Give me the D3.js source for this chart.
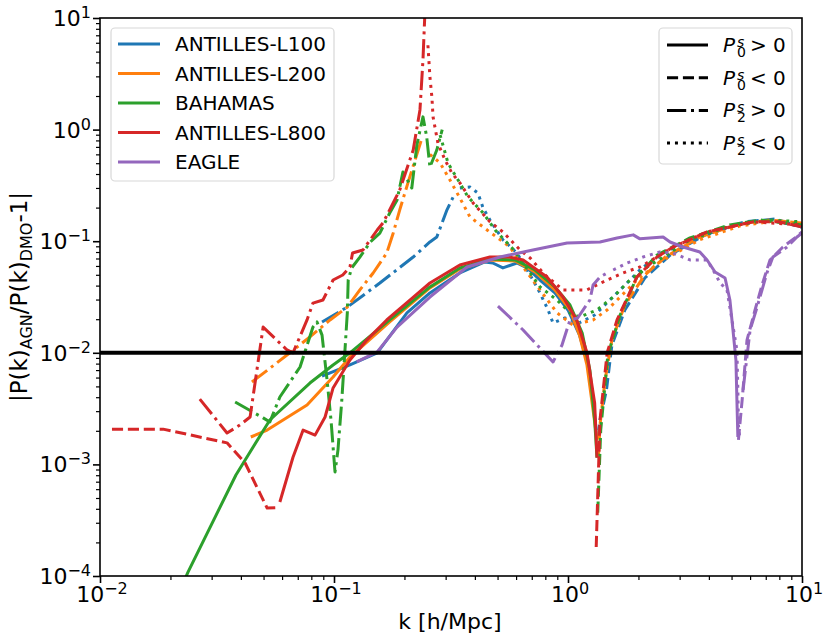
<!DOCTYPE html>
<html>
<head>
<meta charset="utf-8">
<script src="https://cdn.jsdelivr.net/npm/d3@7"></script>
<style>
body { margin: 0; background: #fff; }
text { font-family: "DejaVu Sans", sans-serif; fill: #000; }
</style>
</head>
<body>
<svg id="chart" width="831" height="643"></svg>
<script>
// |P(k)_AGN / P(k)_DMO - 1|, [k, value]; null breaks a line
const sims = ["ANTILLES-L100", "ANTILLES-L200", "BAHAMAS", "ANTILLES-L800", "EAGLE"];
const simColors = ["#1f77b4", "#ff7f0e", "#2ca02c", "#d62728", "#9467bd"];

const l100_p0pos = [[0.0889,0.00619],[0.103,0.00701],[0.117,0.00778],[0.153,0.0100],[0.168,0.0130],[0.205,0.0228],[0.257,0.0344],[0.345,0.0519],[0.441,0.0652],[0.477,0.0638],[0.527,0.0576],[0.605,0.0638],[0.668,0.0576],[0.759,0.0449],[0.879,0.0344],[1.00,0.0242],[1.12,0.0144],[1.22,0.00778],[1.28,0.00378],[1.32,0.00203]];
const l100_p0neg = [[1.35,0.0018],[1.37,0.0025],[1.46,0.00465],[1.54,0.0117],[1.75,0.0242],[2.13,0.0468],[2.73,0.0751],[3.85,0.114],[5.70,0.149],[7.68,0.158],[10,0.134]];
const l100_p2pos = [[0.0889,0.0189],[0.114,0.0257],[0.157,0.0422],[0.218,0.0721],[0.257,0.0984],[0.275,0.109],[0.304,0.191],[0.323,0.249]];
const l100_p2neg = [[0.345,0.300],[0.381,0.306],[0.412,0.270],[0.434,0.198],[0.464,0.155],[0.527,0.103],[0.605,0.0783],[0.689,0.0498],[0.759,0.0344],[0.822,0.0242],[0.863,0.0185],[0.970,0.0205],[1.12,0.0186],[1.30,0.0218],[1.51,0.0297],[1.75,0.0404],[2.07,0.0576],[2.60,0.0800],[3.66,0.109],[5.43,0.143],[7.30,0.155],[10,0.134]];

const l200_p0pos = [[0.0441,0.00176],[0.0518,0.00203],[0.0767,0.0034],[0.0991,0.00607],[0.117,0.00917],[0.173,0.0189],[0.257,0.0381],[0.345,0.0564],[0.464,0.0679],[0.594,0.0665],[0.723,0.0530],[0.879,0.0366],[1.02,0.0242],[1.12,0.0144],[1.205,0.00778],[1.28,0.00307],[1.33,0.00166]];
const l200_p0neg = [[1.35,0.0012],[1.37,0.00225],[1.44,0.0057],[1.54,0.0130],[1.75,0.0268],[2.13,0.0498],[2.60,0.0721],[3.66,0.109],[5.43,0.143],[7.30,0.155],[10,0.145]];
const l200_p2pos = [[0.0446,0.00547],[0.0648,0.0100],[0.0789,0.0139],[0.0962,0.0197],[0.114,0.0257],[0.129,0.0366],[0.147,0.0519],[0.168,0.0783],[0.179,0.118],[0.191,0.191],[0.207,0.333],[0.226,0.60],[0.238,0.85]];
const l200_p2neg = [[0.257,0.60],[0.284,0.502],[0.313,0.353],[0.345,0.244],[0.381,0.165],[0.451,0.126],[0.565,0.0887],[0.643,0.0587],[0.759,0.0366],[0.898,0.0228],[1.05,0.0177],[1.28,0.0197],[1.47,0.0242],[1.67,0.0316],[1.97,0.0449],[2.47,0.0652],[3.66,0.103],[5.43,0.137],[7.68,0.152],[10,0.145]];

const bah_p0pos = [[0.0199,0.000046],[0.0238,0.000109],[0.0381,0.000804],[0.0532,0.0025],[0.0789,0.00536],[0.0991,0.00778],[0.117,0.0100],[0.173,0.0197],[0.257,0.0389],[0.345,0.0576],[0.464,0.0692],[0.594,0.0679],[0.723,0.0552],[0.879,0.0389],[1.02,0.0268],[1.15,0.0150],[1.24,0.00701],[1.30,0.0025],[1.33,0.00115]];
const bah_p0neg = [[1.34,0.00037],[1.38,0.00204],[1.48,0.00956],[1.67,0.0218],[1.97,0.0478],[2.40,0.0751],[3.32,0.107],[4.92,0.140],[6.62,0.155],[10,0.140]];
const bah_p2pos = [[0.0378,0.00362],[0.0498,0.00261],[0.0532,0.00240],[0.0587,0.00402],[0.0716,0.00746],[0.0813,0.0170],[0.0846,0.0189],[0.0889,0.0144],[0.0934,0.0057],[0.0971,0.0025],[0.101,0.000855],[0.104,0.00135],[0.108,0.00378],[0.114,0.0228],[0.115,0.0449],[0.119,0.0576],[0.129,0.0721],[0.143,0.0984],[0.157,0.118],[0.173,0.179],[0.186,0.234],[0.197,0.417],[0.215,0.300],[0.226,0.728],[0.240,1.30],[0.249,0.859],[0.257,0.462],[0.275,0.656],[0.290,1.0]];
const bah_p2neg = [[0.284,0.895],[0.307,0.502],[0.339,0.353],[0.374,0.249],[0.434,0.179],[0.488,0.126],[0.582,0.0851],[0.689,0.0519],[0.759,0.0389],[0.898,0.0297],[1.02,0.0228],[1.12,0.0209],[1.33,0.0242],[1.56,0.0316],[1.84,0.0449],[2.18,0.0587],[2.55,0.0721],[3.32,0.103],[4.92,0.137],[7.30,0.155],[10,0.149]];

const l800_p0pos = [[0.0587,0.00046],[0.0668,0.00116],[0.0738,0.00203],[0.0830,0.00183],[0.0916,0.00266],[0.0991,0.00484],[0.117,0.00861],[0.138,0.0130],[0.168,0.0197],[0.211,0.0297],[0.257,0.0422],[0.345,0.0612],[0.464,0.0721],[0.560,0.0721],[0.643,0.0679],[0.813,0.0478],[0.953,0.0316],[1.09,0.0197],[1.205,0.0100],[1.30,0.00355],[1.33,0.00115]];
const l800_p0neg = [[0.01125,0.00207],[0.0186,0.00207],[0.0349,0.00156],[0.0417,0.00103],[0.0518,0.000406],[0.057,0.00041], null, [1.32,0.000182],[1.37,0.0025],[1.47,0.0100],[1.62,0.0197],[1.97,0.0478],[2.40,0.0721],[2.81,0.0887],[3.93,0.121],[6.18,0.149],[8.05,0.149],[10,0.134]];
const l800_p2pos = [[0.0267,0.00385],[0.0349,0.00191],[0.0396,0.00225],[0.0438,0.00266],[0.0498,0.0170],[0.0630,0.0106],[0.0668,0.0100],[0.0767,0.0197],[0.0813,0.0279],[0.0897,0.0297],[0.0991,0.0449],[0.109,0.0498],[0.117,0.0587],[0.120,0.0783],[0.133,0.0834],[0.153,0.126],[0.162,0.146],[0.179,0.220],[0.191,0.288],[0.218,0.656],[0.233,1.50],[0.240,4.21],[0.245,12]];
const l800_p2neg = [[0.252,5.7],[0.257,2.96],[0.262,1.96],[0.265,1.30],[0.278,0.758],[0.298,0.535],[0.319,0.408],[0.345,0.333],[0.393,0.220],[0.464,0.149],[0.527,0.121],[0.624,0.0834],[0.689,0.0707],[0.798,0.0498],[0.953,0.0366],[1.205,0.0366],[1.47,0.0449],[1.72,0.0519],[2.03,0.0587],[2.40,0.0721],[2.81,0.0887],[3.93,0.121],[6.18,0.149],[10,0.140]];

const eagle_p0pos = [[0.125,0.00828],[0.153,0.0102],[0.186,0.0170],[0.257,0.0316],[0.370,0.0587],[0.512,0.0721],[0.708,0.0834],[0.991,0.0964],[1.37,0.0984],[1.62,0.107],[1.90,0.114],[2.03,0.105],[2.55,0.109],[2.73,0.0984],[3.10,0.0887],[3.66,0.080],[3.93,0.0679],[4.25,0.0530],[4.69,0.0468],[4.92,0.0297],[5.07,0.016],[5.22,0.0086],[5.27,0.00378],[5.32,0.00176]];
const eagle_p0neg = [[5.35,0.00166],[5.55,0.00378],[5.82,0.0130],[6.30,0.0242],[6.75,0.0405],[7.30,0.0679],[8.29,0.0887],[9.33,0.107],[10,0.121]];
const eagle_p2pos = [[0.502,0.0262],[0.643,0.0160],[0.863,0.00828],[0.942,0.0117],[1.02,0.0197],[1.10,0.0205],[1.24,0.0297],[1.28,0.0405],[1.37,0.0478],[1.47,0.0519], null, [5.60,0.00465],[6.0,0.016],[6.43,0.0257],[7.08,0.0519],[7.51,0.0721],[8.63,0.0887],[9.52,0.109],[10,0.118]];
const eagle_p2neg = [[1.56,0.0552],[1.79,0.0638],[2.09,0.0721],[2.47,0.080],[2.81,0.0783],[3.32,0.0679],[3.93,0.0679],[4.17,0.0552],[4.47,0.0422],[4.78,0.0366],[5.02,0.0197],[5.27,0.0106],[5.32,0.00465],[5.35,0.00225],[5.43,0.00166]];

const threshold = 0.01;
const xTickExp = [-2, -1, 0, 1];
const yTickExp = [-4, -3, -2, -1, 0, 1];
const styleLabels = [["0", ">"], ["0", "<"], ["2", ">"], ["2", "<"]];

const series = [
    [l100_p0pos, l100_p0neg, l100_p2pos, l100_p2neg],
    [l200_p0pos, l200_p0neg, l200_p2pos, l200_p2neg],
    [bah_p0pos, bah_p0neg, bah_p2pos, bah_p2neg],
    [l800_p0pos, l800_p0neg, l800_p2pos, l800_p2neg],
    [eagle_p0pos, eagle_p0neg, eagle_p2pos, eagle_p2neg]
];

const lw = 3;
const dashes = [null, [3.7, 1.6], [6.4, 1.6, 1, 1.6], [1, 1.65]].map(d => d ? d.map(v => v * lw).join(",") : null);

const svg = d3.select("#chart");
const x = d3.scaleLog().domain([1e-2, 1e1]).range([100, 802]);
const y = d3.scaleLog().domain([1e-4, 1e1]).range([576, 18]);

svg.append("defs").append("clipPath").attr("id", "plotClip")
    .append("rect")
    .attr("x", x.range()[0]).attr("y", y.range()[1])
    .attr("width", x.range()[1] - x.range()[0])
    .attr("height", y.range()[0] - y.range()[1]);

const line = d3.line()
    .defined(d => d !== null)
    .x(d => x(d[0]))
    .y(d => y(d[1]));

const plot = svg.append("g").attr("clip-path", "url(#plotClip)");

series.forEach((group, i) => {
    group.forEach((pts, j) => {
        plot.append("path")
            .datum(pts)
            .attr("d", line)
            .attr("fill", "none")
            .attr("stroke", simColors[i])
            .attr("stroke-width", lw)
            .attr("stroke-linejoin", "round")
            .attr("stroke-dasharray", dashes[j]);
    });
});

plot.append("line")
    .attr("x1", x.range()[0]).attr("x2", x.range()[1])
    .attr("y1", y(threshold)).attr("y2", y(threshold))
    .attr("stroke", "#000")
    .attr("stroke-width", 4);

// ticks
const majorX = xTickExp.map(e => Math.pow(10, e));
const majorY = yTickExp.map(e => Math.pow(10, e));
const minorOf = majors => majors.slice(0, -1).flatMap(m => d3.range(2, 10).map(k => k * m));

function styleAxis(sel, w) {
    sel.select(".domain").remove();
    sel.selectAll(".tick line").attr("stroke", "#000").attr("stroke-width", w);
}

svg.append("g").attr("transform", `translate(0,${y.range()[0]})`)
    .call(d3.axisBottom(x).tickValues(minorOf(majorX)).tickSize(4).tickSizeOuter(0).tickFormat(""))
    .call(styleAxis, 1.2);
svg.append("g").attr("transform", `translate(0,${y.range()[0]})`)
    .call(d3.axisBottom(x).tickValues(majorX).tickSize(7).tickSizeOuter(0).tickFormat(""))
    .call(styleAxis, 1.6);
svg.append("g").attr("transform", `translate(${x.range()[0]},0)`)
    .call(d3.axisLeft(y).tickValues(minorOf(majorY)).tickSize(4).tickSizeOuter(0).tickFormat(""))
    .call(styleAxis, 1.2);
svg.append("g").attr("transform", `translate(${x.range()[0]},0)`)
    .call(d3.axisLeft(y).tickValues(majorY).tickSize(7).tickSizeOuter(0).tickFormat(""))
    .call(styleAxis, 1.6);

svg.append("rect")
    .attr("x", x.range()[0]).attr("y", y.range()[1])
    .attr("width", x.range()[1] - x.range()[0])
    .attr("height", y.range()[0] - y.range()[1])
    .attr("fill", "none").attr("stroke", "#000").attr("stroke-width", 1.6);

function powLabel(sel, e) {
    sel.append("tspan").text("10");
    sel.append("tspan").attr("dy", -8).attr("font-size", 16)
        .text(e < 0 ? "\u2212" + (-e) : String(e));
}

xTickExp.forEach(e => {
    svg.append("text")
        .attr("x", x(Math.pow(10, e)) + 2).attr("y", 602)
        .attr("text-anchor", "middle").attr("font-size", 22)
        .call(powLabel, e);
});
yTickExp.forEach(e => {
    svg.append("text")
        .attr("x", 91).attr("y", y(Math.pow(10, e)) + 8)
        .attr("text-anchor", "end").attr("font-size", 22)
        .call(powLabel, e);
});

// axis labels
svg.append("text")
    .attr("x", 450).attr("y", 629)
    .attr("text-anchor", "middle").attr("font-size", 22)
    .text("k [h/Mpc]");

const yl = svg.append("text")
    .attr("transform", `translate(27,${(y.range()[0] + y.range()[1]) / 2}) rotate(-90)`)
    .attr("text-anchor", "middle").attr("font-size", 23);
yl.append("tspan").text("|P(k)");
yl.append("tspan").attr("dy", 5).attr("font-size", 16).text("AGN");
yl.append("tspan").attr("dy", -5).text("/P(k)");
yl.append("tspan").attr("dy", 5).attr("font-size", 16).text("DMO");
yl.append("tspan").attr("dy", -5).text("-1|");

// legend: simulations
const leg1 = svg.append("g");
leg1.append("rect")
    .attr("x", 111).attr("y", 28).attr("width", 223).attr("height", 153)
    .attr("rx", 4).attr("fill", "#fff").attr("fill-opacity", 0.8)
    .attr("stroke", "#d8d8d8").attr("stroke-width", 1.2);
sims.forEach((name, i) => {
    const ry = 44 + i * 29.5;
    leg1.append("line")
        .attr("x1", 118).attr("x2", 160).attr("y1", ry).attr("y2", ry)
        .attr("stroke", simColors[i]).attr("stroke-width", lw);
    leg1.append("text")
        .attr("x", 175).attr("y", ry + 7).attr("font-size", 20)
        .text(name);
});

// legend: multipole sign
const leg2 = svg.append("g");
leg2.append("rect")
    .attr("x", 659).attr("y", 28).attr("width", 133).attr("height", 136)
    .attr("rx", 4).attr("fill", "#fff").attr("fill-opacity", 0.8)
    .attr("stroke", "#d8d8d8").attr("stroke-width", 1.2);
styleLabels.forEach((lab, j) => {
    const ry = 45 + j * 32.7;
    leg2.append("line")
        .attr("x1", 667).attr("x2", 708).attr("y1", ry).attr("y2", ry)
        .attr("stroke", "#000").attr("stroke-width", lw)
        .attr("stroke-dasharray", dashes[j]);
    const t = leg2.append("text").attr("x", 723).attr("y", ry + 7).attr("font-size", 20);
    t.append("tspan").attr("font-style", "italic").text("P");
    t.append("tspan").attr("x", 737).attr("dy", -5).attr("font-size", 14)
        .attr("font-style", "italic").text("s");
    t.append("tspan").attr("x", 737).attr("dy", 10).attr("font-size", 14).text(lab[0]);
    t.append("tspan").attr("x", 750).attr("dy", -5).text(lab[1] + " 0");
});
</script>
</body>
</html>
